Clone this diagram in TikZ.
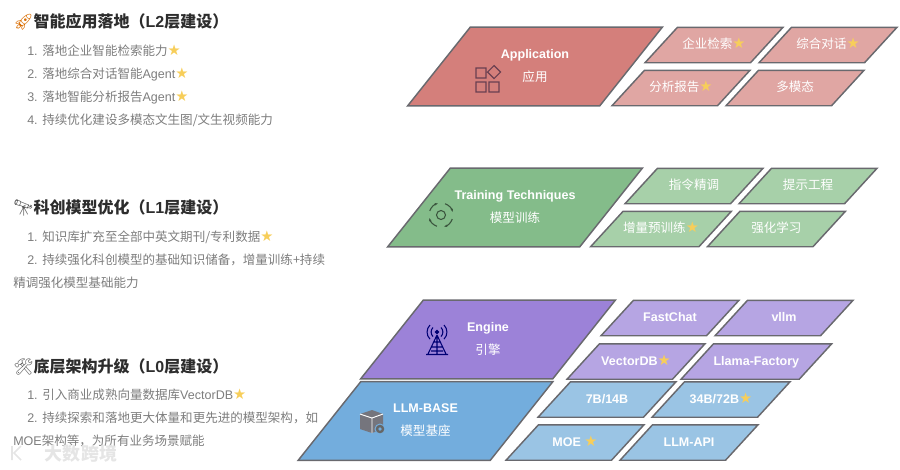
\documentclass[tikz,border=0pt]{standalone}
\usepackage{fontspec}
\usepackage{xcolor}
\usepackage{tikz}
\usetikzlibrary{positioning,arrows.meta,shapes.geometric}
\setmainfont{Liberation Sans}
\newfontfamily\cnfont{Noto Sans CJK SC}
\newfontfamily\symfont{DejaVu Sans}
\newfontfamily\emojifont{Noto Emoji}
\definecolor{appc}{RGB}{212,127,123}
\definecolor{appl}{RGB}{224,166,163}
\definecolor{trainc}{RGB}{132,188,138}
\definecolor{trainl}{RGB}{167,208,169}
\definecolor{enginec}{RGB}{156,130,216}
\definecolor{enginel}{RGB}{182,165,227}
\definecolor{basec}{RGB}{115,173,221}
\definecolor{basel}{RGB}{154,196,228}
\definecolor{edgec}{RGB}{105,105,110}
\definecolor{starc}{RGB}{247,206,90}
\definecolor{headc}{RGB}{45,45,45}
\definecolor{bodyc}{RGB}{125,125,125}
\definecolor{appicon}{RGB}{106,64,80}
\newcommand{\cn}[1]{{\cnfont #1}}
\newcommand{\gold}{{\symfont\fontsize{11}{12}\selectfont\textcolor{starc}{★}}}
\newcommand{\emo}[1]{{\emojifont #1}}
\tikzset{
  bigbox/.style   = {trapezium, trapezium left angle=51.5, trapezium right angle=128.5,
                     trapezium stretches body, draw=edgec, line width=1.1pt, outer sep=0pt,
                     inner xsep=0pt, inner ysep=16.4pt, text height=24.2pt, text depth=2pt,
                     minimum width=191pt, align=center, text=white,
                     font=\fontsize{9.4}{17.25}\selectfont},
  smallbox/.style = {trapezium, trapezium left angle=47.5, trapezium right angle=132.5,
                     trapezium stretches body, draw=edgec, line width=1.1pt, outer sep=0pt,
                     inner xsep=0pt, inner ysep=8.6pt, text height=7.6pt, text depth=1.8pt,
                     minimum width=103.5pt, align=center, text=white,
                     font=\fontsize{9.4}{12}\selectfont},
  head/.style     = {anchor=west, inner sep=0pt, text=headc, font=\fontsize{12}{14}\selectfont\bfseries},
  listing/.style  = {inner sep=0pt, align=left, text=bodyc, font=\fontsize{9.4}{17.25}\selectfont},
  wmark/.style    = {inner sep=0pt, text=black!10, font=\fontsize{13.5}{15}\selectfont\bfseries},
  icon/.style     = {line width=0.8pt},
}
\begin{document}
\begin{tikzpicture}[x=0.75pt, y=-0.75pt, node distance=6.4pt]
\useasboundingbox (0,0) rectangle (900,469);

% ---------- left column: notes ----------
\node[head] (lead2) at (13,22) {\textcolor{orange!85!black}{\emo{🚀}}\cn{智能应用落地（}L2\cn{层建设）}};
\node[listing, below=10.2pt of lead2.south west, anchor=north west, xshift=10.5pt] (notes2)
  {1. \cn{落地企业智能检索能力}\gold\\
   2. \cn{落地综合对话智能}Agent\gold\\
   3. \cn{落地智能分析报告}Agent\gold\\
   4. \cn{持续优化建设多模态文生图/文生视频能力}};

\node[head] (lead1) at (13,208) {\textcolor{black!65}{\emo{🔭}}\cn{科创模型优化（}L1\cn{层建设）}};
\node[listing, below=10.9pt of lead1.south west, anchor=north west] (notes1)
  {\hspace{10.5pt}1. \cn{知识库扩充至全部中英文期刊/专利数据}\gold\\
   \hspace{10.5pt}2. \cn{持续强化科创模型的基础知识储备，增量训练+持续}\\
   \cn{精调强化模型基础能力}};

\node[head] (lead0) at (13,367) {\textcolor{black!60}{\emo{🛠}}\cn{底层架构升级（}L0\cn{层建设）}};
\node[listing, below=9.6pt of lead0.south west, anchor=north west] (notes0)
  {\hspace{10.5pt}1. \cn{引入商业成熟向量数据库}VectorDB\gold\\
   \hspace{10.5pt}2. \cn{持续探索和落地更大体量和更先进的模型架构，如}\\
   MOE\cn{架构等，为所有业务场景赋能}};
\node[wmark] (mark) at (81,454) {\cn{大数跨境}};
\draw[black!10, line width=1.2pt] (12,446) -- (12,460) (21,446) -- (14,453) -- (21,460);

% ---------- tier L2: application ----------
\node[bigbox, fill=appc] (app) at (535,66.5) {\textbf{Application}\\\cn{应用}};
\node[smallbox, fill=appl] (appa) at (714,45) {\cn{企业检索}\gold};
\node[smallbox, fill=appl, right=of appa] (appb) {\cn{综合对话}\gold};
\node[smallbox, fill=appl] (appc) at (681,88) {\cn{分析报告}\gold};
\node[smallbox, fill=appl, right=of appc] (appd) {\cn{多模态}};
\draw[icon, draw=appicon] (476,68) rectangle (486,78) (476,82) rectangle (486,92)
  (489,82) rectangle (499,92) (494,65.5) -- (500.5,72) -- (494,78.5) -- (487.5,72) -- cycle;

% ---------- tier L1: training ----------
\node[bigbox, fill=trainc] (train) at (515,207.5) {\textbf{Training Techniques}\\\cn{模型训练}};
\node[smallbox, fill=trainl] (traina) at (694,186) {\cn{指令精调}};
\node[smallbox, fill=trainl, right=of traina] (trainb) {\cn{提示工程}};
\node[smallbox, fill=trainl] (trainc) at (661,229) {\cn{增量预训练}\gold};
\node[smallbox, fill=trainl, right=of trainc] (traind) {\cn{强化学习}};
\draw[icon, draw=black!55!trainc] (441,215) circle (4.5);
\foreach \ang in {20,110,200,290}
  \draw[icon, draw=black!55!trainc, -{Stealth[length=2.5pt]}] (441,215) ++(\ang:12) arc (\ang:\ang+55:12);

% ---------- tier L0: engine and base ----------
\node[bigbox, fill=enginec] (engine) at (488,339.5) {\textbf{Engine}\\\cn{引擎}};
\node[smallbox, fill=enginel] (enginea) at (670,318) {\textbf{FastChat}};
\node[smallbox, fill=enginel, right=of enginea] (engineb) {\textbf{vllm}};
\node[smallbox, fill=enginel] (enginee) at (636,361.5) {\textbf{VectorDB}\gold};
\node[smallbox, fill=enginel, right=of enginee] (enginef) {\textbf{Llama-Factory}};
\draw[icon, draw=blue!45!black, fill=blue!45!black] (437,332) circle (1.6);
\draw[icon, draw=blue!45!black] (433,327.5) arc (225:135:6.4) (441,327.5) arc (-45:45:6.4)
  (430,325) arc (225:135:10) (444,325) arc (-45:45:10)
  (437,335) -- (428,354) (437,335) -- (446,354) (426,354.5) -- (448,354.5)
  (433.5,342) -- (440.5,342) (431.5,347) -- (442.5,347) (431,351) -- (443,351)
  (437,335) -- (437,354);

\node[bigbox, fill=basec] (base) at (425.5,421) {\textbf{LLM-BASE}\\\cn{模型基座}};
\node[smallbox, fill=basel] (basea) at (607,399.5) {\textbf{7B/14B}};
\node[smallbox, fill=basel, right=of basea] (baseb) {\textbf{34B/72B}\gold};
\node[smallbox, fill=basel] (basee) at (575,442.5) {\textbf{MOE} \gold};
\node[smallbox, fill=basel, right=of basee] (basef) {\textbf{LLM-API}};
\fill[black!60!blue!8!gray] (372,410) -- (383,414) -- (383,429) -- (372,433) -- (360,429) -- (360,414) -- cycle;
\draw[white, line width=0.7pt] (360,414) -- (372,418) -- (383,414) (372,418) -- (372,433);
\fill[basec] (380,429) circle (5.5);
\draw[black!60, line width=1.8pt] (380,429) circle (3);

\end{tikzpicture}
\end{document}
